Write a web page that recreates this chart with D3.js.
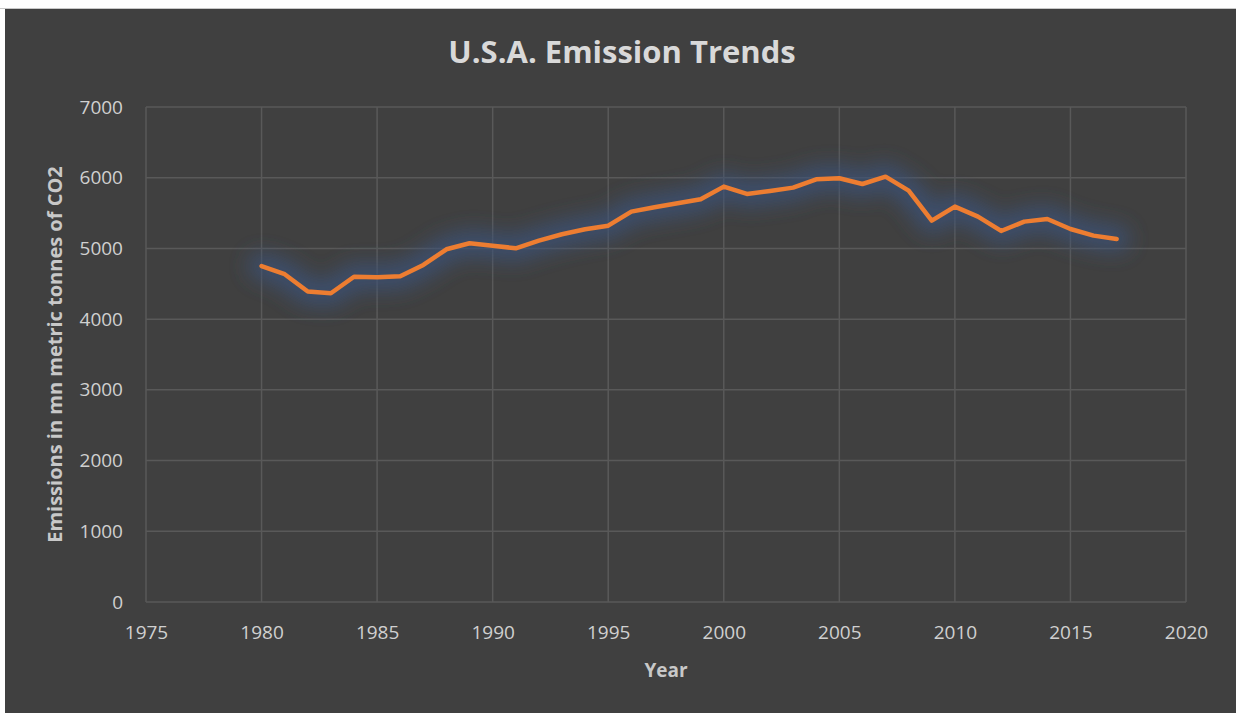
<!DOCTYPE html>
<html>
<head>
<meta charset="utf-8">
<script src="https://cdn.jsdelivr.net/npm/d3@7"></script>
<style>
  body { margin: 0; background: #ffffff; }
  svg { display: block; }
</style>
</head>
<body>
<div id="chart"></div>
<script>
const width = 1236, height = 713;

// data
const years = [1980, 1981, 1982, 1983, 1984, 1985, 1986, 1987, 1988, 1989,
  1990, 1991, 1992, 1993, 1994, 1995, 1996, 1997, 1998, 1999,
  2000, 2001, 2002, 2003, 2004, 2005, 2006, 2007, 2008, 2009,
  2010, 2011, 2012, 2013, 2014, 2015, 2016, 2017];
const emissions = [4750, 4635, 4390, 4366, 4600, 4592, 4606, 4766, 4988, 5073,
  5039, 5002, 5110, 5200, 5271, 5322, 5520, 5582, 5638, 5695,
  5874, 5770, 5813, 5860, 5978, 5992, 5911, 6015, 5817, 5393,
  5591, 5450, 5247, 5379, 5417, 5275, 5181, 5134];
const xTicks = [1975, 1980, 1985, 1990, 1995, 2000, 2005, 2010, 2015, 2020];
const yTicks = [0, 1000, 2000, 3000, 4000, 5000, 6000, 7000];

const data = years.map((y, i) => ({year: y, value: emissions[i]}));

const margin = {left: 146, right: 50, top: 107, bottom: 111};
const font = "'Open Sans', 'DejaVu Sans', sans-serif";

const svg = d3.select("#chart").append("svg")
  .attr("width", width)
  .attr("height", height);

// chart background
svg.append("rect")
  .attr("x", 5).attr("y", 8)
  .attr("width", width - 5).attr("height", height - 8)
  .attr("fill", "#404040");
svg.append("line")
  .attr("x1", 0).attr("x2", width).attr("y1", 8.5).attr("y2", 8.5)
  .attr("stroke", "#c8c8c8");

const x = d3.scaleLinear()
  .domain([1975, 2020])
  .range([margin.left, width - margin.right]);
const y = d3.scaleLinear()
  .domain([0, 7000])
  .range([height - margin.bottom, margin.top]);

// gridlines
const grid = svg.append("g");
grid.selectAll("line.h")
  .data(yTicks)
  .enter().append("line")
    .attr("x1", x(1975)).attr("x2", x(2020))
    .attr("y1", d => y(d)).attr("y2", d => y(d))
    .attr("stroke", "#595959")
    .attr("stroke-width", 1.5);
grid.selectAll("line.v")
  .data(xTicks)
  .enter().append("line")
    .attr("x1", d => x(d)).attr("x2", d => x(d))
    .attr("y1", y(0)).attr("y2", y(7000))
    .attr("stroke", "#595959")
    .attr("stroke-width", 1.5);

// axes (labels only)
const xAxis = svg.append("g")
  .attr("transform", `translate(0,${y(0)})`)
  .call(d3.axisBottom(x).tickValues(xTicks).tickFormat(d3.format("d")).tickSize(0).tickPadding(24));
const yAxis = svg.append("g")
  .attr("transform", `translate(${x(1975)},0)`)
  .call(d3.axisLeft(y).tickValues(yTicks).tickFormat(d3.format("d")).tickSize(0).tickPadding(23));
[xAxis, yAxis].forEach(a => {
  a.select(".domain").remove();
  a.selectAll("text")
    .attr("fill", "#d0d0d0")
    .style("font-family", font)
    .style("font-size", "19px");
});

// glow under the line
const defs = svg.append("defs");
defs.append("filter")
  .attr("id", "glow")
  .attr("x", "-10%").attr("y", "-60%")
  .attr("width", "120%").attr("height", "220%")
  .append("feGaussianBlur")
  .attr("stdDeviation", 10);

const line = d3.line()
  .x(d => x(d.year))
  .y(d => y(d.value));

svg.append("path")
  .datum(data)
  .attr("d", line)
  .attr("fill", "none")
  .attr("stroke", "#3b5278")
  .attr("stroke-opacity", 0.8)
  .attr("stroke-width", 26)
  .attr("stroke-linejoin", "round")
  .attr("stroke-linecap", "round")
  .attr("filter", "url(#glow)");

svg.append("path")
  .datum(data)
  .attr("d", line)
  .attr("fill", "none")
  .attr("stroke", "#ed7d31")
  .attr("stroke-width", 4.5)
  .attr("stroke-linejoin", "round")
  .attr("stroke-linecap", "round");

// titles
svg.append("text")
  .attr("x", 622).attr("y", 63)
  .attr("text-anchor", "middle")
  .attr("fill", "#d9d9d9")
  .style("font-family", font)
  .style("font-weight", "bold")
  .style("font-size", "31px")
  .text("U.S.A. Emission Trends");

svg.append("text")
  .attr("x", (x(1975) + x(2020)) / 2).attr("y", 677)
  .attr("text-anchor", "middle")
  .attr("fill", "#c8c8c8")
  .style("font-family", font)
  .style("font-weight", "bold")
  .style("font-size", "19px")
  .text("Year");

svg.append("text")
  .attr("transform", `translate(62,${(y(0) + y(7000)) / 2}) rotate(-90)`)
  .attr("text-anchor", "middle")
  .attr("fill", "#c8c8c8")
  .style("font-family", font)
  .style("font-weight", "bold")
  .style("font-size", "20px")
  .text("Emissions in mn metric tonnes of CO2");
</script>
</body>
</html>
